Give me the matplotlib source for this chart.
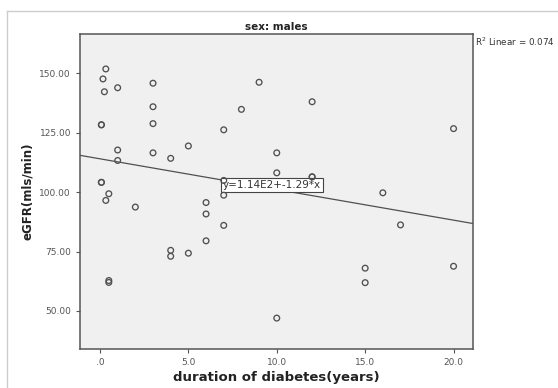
import numpy as np
import matplotlib
matplotlib.use("Agg")
import matplotlib.pyplot as plt
from matplotlib.lines import Line2D

# duration of diabetes (years) and eGFR
duration = [0.33, 0.17, 0.25, 1.0, 0.08, 0.08, 1.0, 1.0, 0.08, 0.08,
            0.5, 0.33, 0.5, 0.5, 2.0, 3.0, 3.0, 3.0, 3.0, 4.0,
            4.0, 4.0, 5.0, 5.0, 6.0, 6.0, 6.0, 7.0, 7.0, 7.0,
            7.0, 8.0, 9.0, 10.0, 10.0, 10.0, 12.0, 12.0, 12.0, 15.0,
            15.0, 16.0, 17.0, 20.0, 20.0]
egfr = [151.8, 147.6, 142.2, 143.9, 128.3, 128.3, 117.7, 113.3, 104.1, 104.1,
        99.3, 96.5, 62.8, 62.0, 93.7, 145.8, 135.9, 128.8, 116.5, 114.2,
        75.5, 73.0, 119.4, 74.3, 95.6, 90.8, 79.5, 126.2, 104.9, 98.7,
        86.0, 134.8, 146.2, 116.5, 108.1, 47.0, 138.0, 106.4, 106.4, 68.0,
        61.9, 99.7, 86.2, 126.7, 68.8]

# linear fit shown in the chart
fit_intercept = 114.0
fit_slope = -1.29
r_squared = 0.074

x_ticks = [0, 5, 10, 15, 20]
x_tick_labels = [".0", "5.0", "10.0", "15.0", "20.0"]
y_ticks = [50, 75, 100, 125, 150]
y_tick_labels = ["50.00", "75.00", "100.00", "125.00", "150.00"]

fig = plt.figure(figsize=(5.58, 3.88), dpi=100)
ax = fig.add_axes([80 / 558, 1 - 349 / 388, 393 / 558, 315 / 388])

# outer light frame of the output viewer
fig.add_artist(Line2D([7 / 558, 1], [1 - 11 / 388, 1 - 11 / 388], color="#cccccc", lw=1))
fig.add_artist(Line2D([7 / 558, 7 / 558], [0, 1 - 11 / 388], color="#cccccc", lw=1))

ax.set_facecolor("#f0f0f0")
ax.scatter(duration, egfr, s=17, facecolors="none", edgecolors="#505050", linewidths=0.95, zorder=5)

xlim = (-1.13, 21.1)
xs = np.array(xlim)
ax.plot(xs, fit_intercept + fit_slope * xs, color="#505050", lw=0.9, zorder=2)

# equation label anchored on the fit line
lx = 6.95
ax.text(lx, fit_intercept + fit_slope * lx, "y=1.14E2+-1.29*x", fontsize=7.5,
        ha="left", va="top", color="#333333", zorder=4,
        bbox=dict(boxstyle="square,pad=0.2", facecolor="white", edgecolor="#444444", lw=0.8))

ax.set_xlim(xlim)
ax.set_ylim(34, 166.5)
ax.set_xticks(x_ticks)
ax.set_xticklabels(x_tick_labels)
ax.set_yticks(y_ticks)
ax.set_yticklabels(y_tick_labels)
ax.tick_params(direction="out", length=3, width=0.8, colors="#555555", labelsize=6.5, labelcolor="#555555")

for s in ax.spines.values():
    s.set_color("#555555")
    s.set_linewidth(1.1)

ax.set_xlabel("duration of diabetes(years)", fontsize=9.5, fontweight="bold", color="#222222", labelpad=3)
ax.set_ylabel("eGFR(mls/min)", fontsize=8.5, fontweight="bold", color="#222222", labelpad=4)
ax.set_title("sex: males", fontsize=7.5, fontweight="bold", color="#222222", pad=3)

fig.text(475 / 558, 1 - 36 / 388, "R$^2$ Linear = %.3f" % r_squared, fontsize=6.3,
         ha="left", va="top", color="#333333")

fig.savefig("out.png", dpi=100)
